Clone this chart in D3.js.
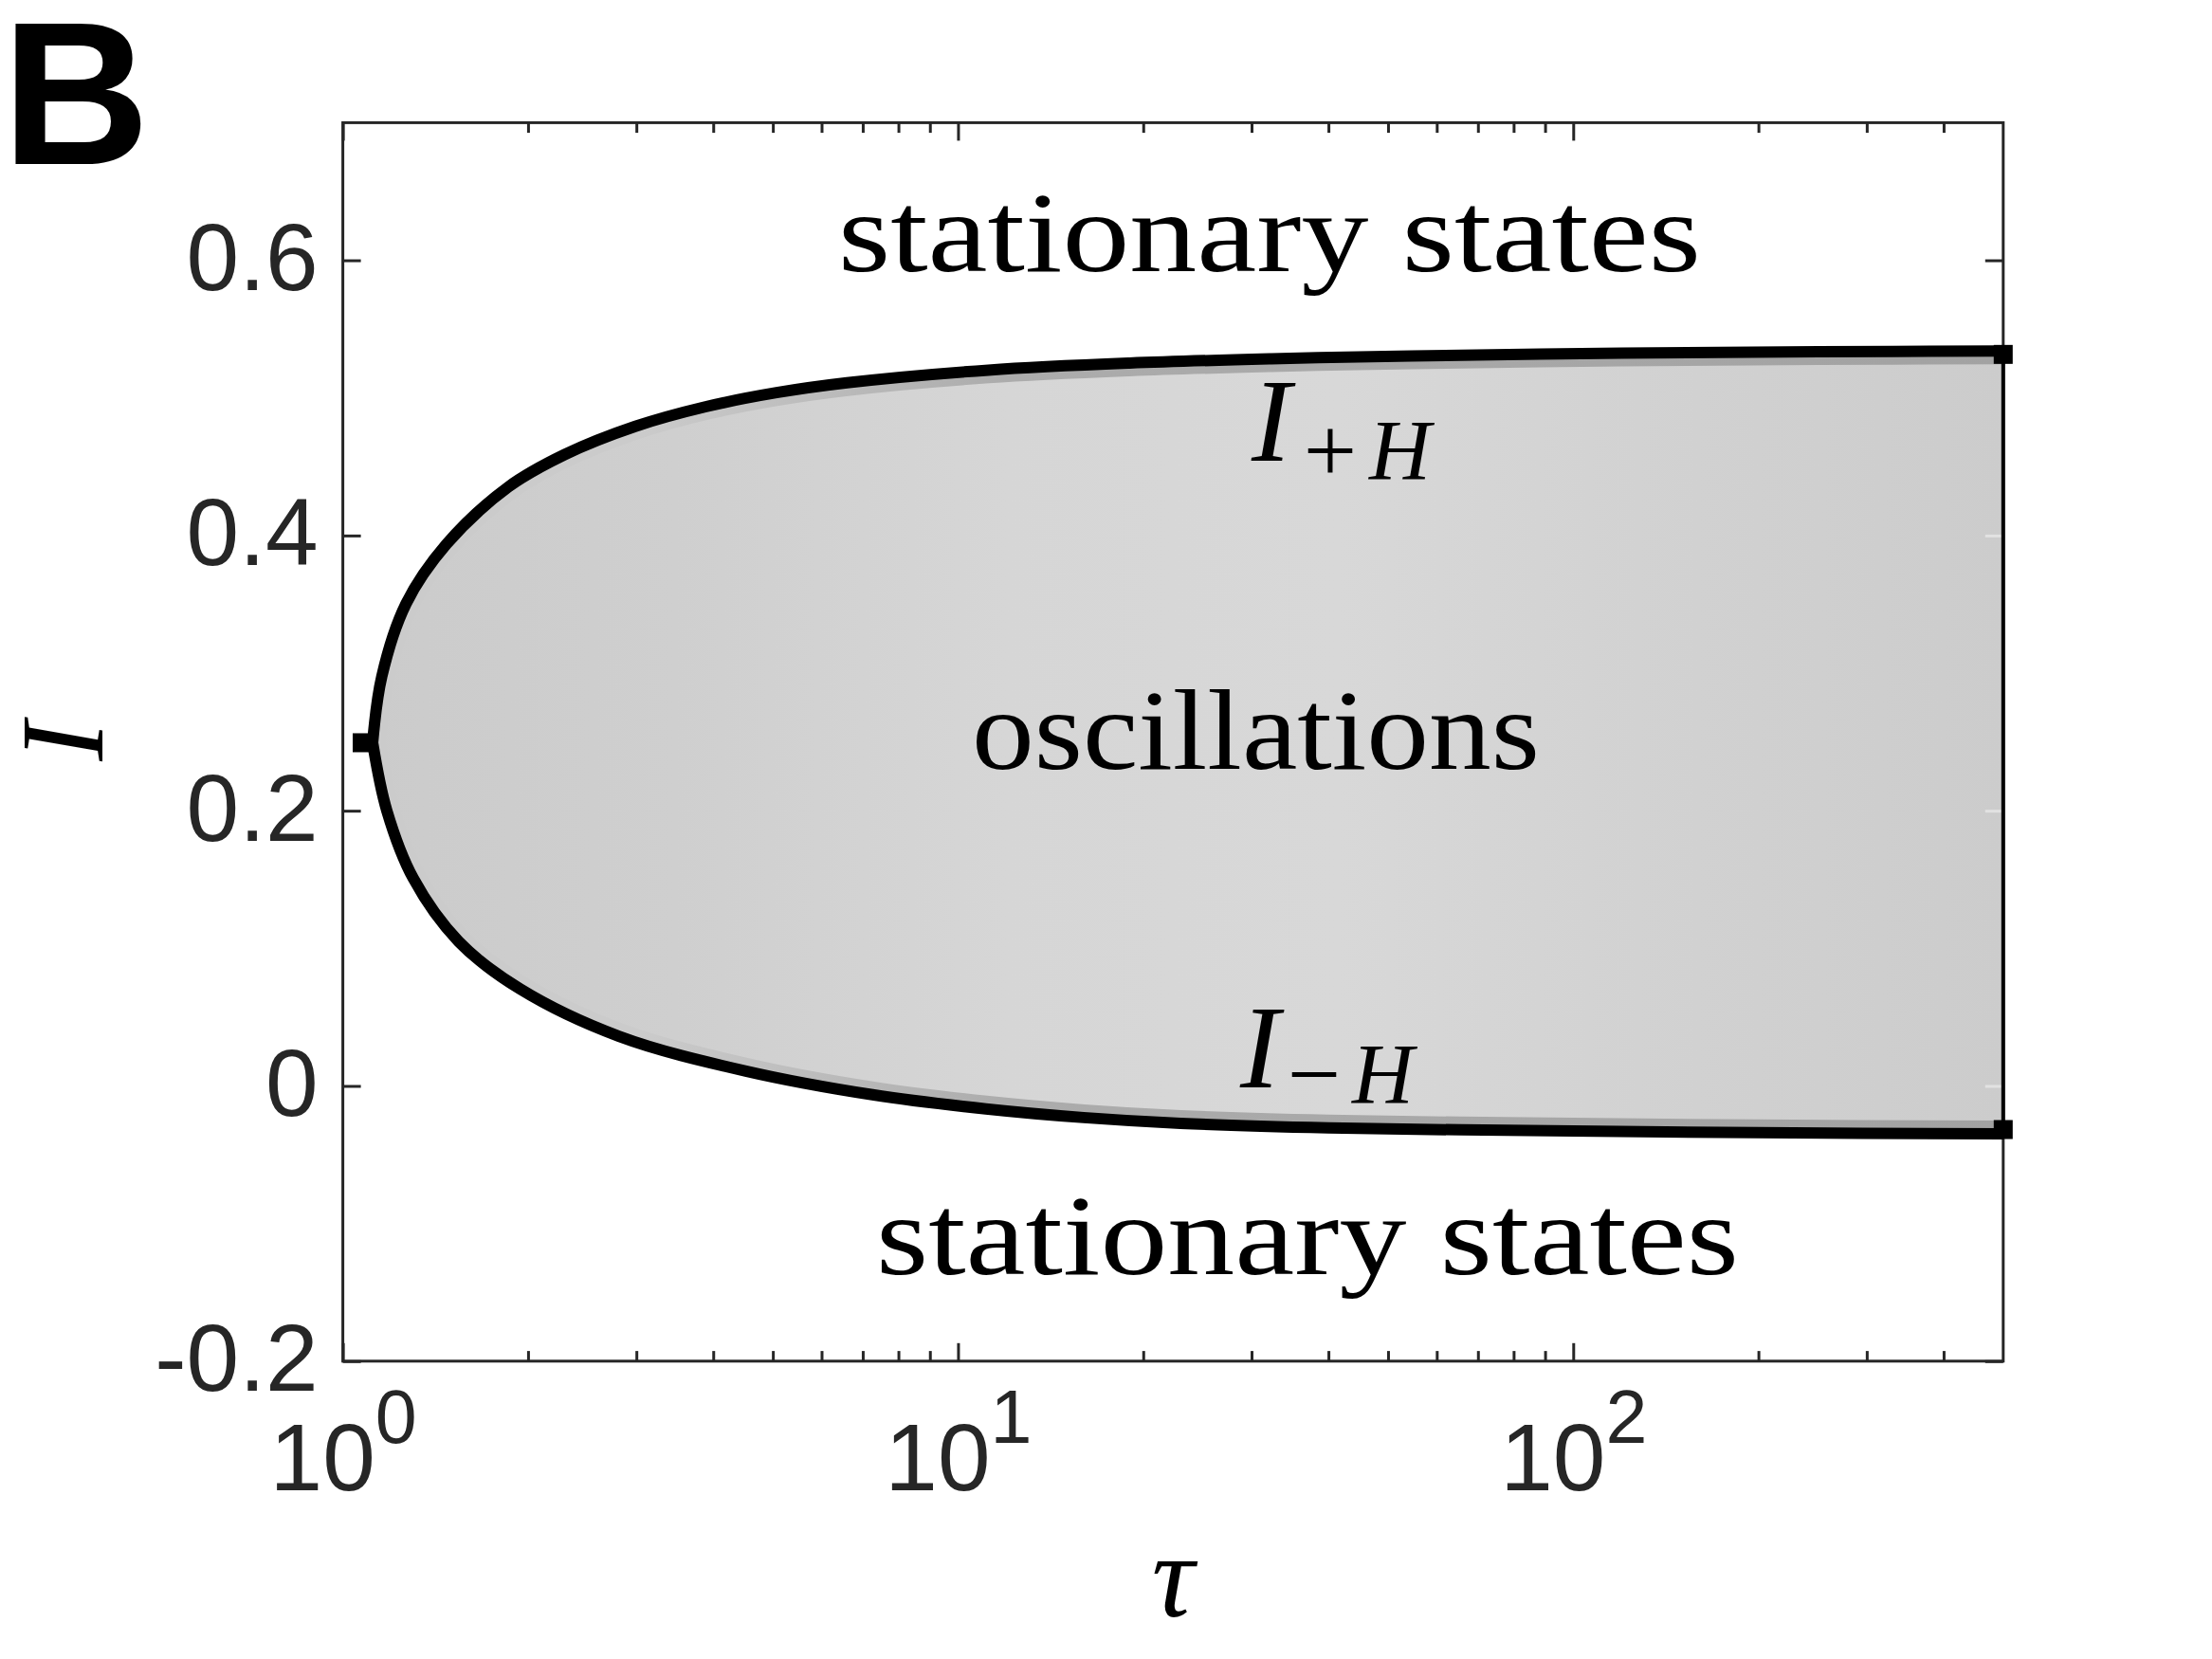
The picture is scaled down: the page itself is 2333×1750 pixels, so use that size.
<!DOCTYPE html>
<html><head><meta charset="utf-8">
<script src="https://cdn.jsdelivr.net/npm/d3@7"></script>
<style>html,body{margin:0;padding:0;background:#fff;} svg{display:block;}</style>
</head><body>
<svg id="chart" width="2333" height="1750"></svg>
<script>
// ---- data ----
const tauUpper = [1.118, 1.157, 1.267, 1.473, 1.857, 2.294, 2.988, 3.891, 5.07, 6.6, 11.2, 19.0, 32.3, 54.7, 120, 250, 500];
const iUpper   = [0.2494, 0.2976, 0.3505, 0.3936, 0.4352, 0.4588, 0.4793, 0.4936, 0.5038, 0.511, 0.5202, 0.5253, 0.5284, 0.5305, 0.5325, 0.5335, 0.534];
const tauLower = [1.118, 1.179, 1.302, 1.543, 1.941, 2.81, 4.52, 7.26, 11.1, 16, 23, 40, 100, 200, 500];
const iLower   = [0.2494, 0.200, 0.1507, 0.1049, 0.0705, 0.0361, 0.0108, -0.0064, -0.0167, -0.0230, -0.0272, -0.0305, -0.0328, -0.0340, -0.0348];
const markerTau = [1.075, 500, 500];
const markerI   = [0.2494, 0.5316, -0.0317];
const xMajorTicks = [1, 10, 100];
const xMajorExp = ["0", "1", "2"];
const xMinorTicks = [2,3,4,5,6,7,8,9,20,30,40,50,60,70,80,90,200,300,400];
const yTicks = [-0.2, 0, 0.2, 0.4, 0.6];
const yTickLabels = ["-0.2", "0", "0.2", "0.4", "0.6"];
const regionLabels = ["stationary states", "oscillations", "stationary states"];

// ---- layout ----
const L = 361.6, R = 2112.8, T = 129.4, B = 1435.8;
const axisColor = "#262626";
const sans = "'Liberation Sans', Arial, Helvetica, sans-serif";
const serif = "'Liberation Serif', 'Times New Roman', serif";

const svg = d3.select("#chart");
const x = d3.scaleLog().domain([1, 500]).range([L, R]);
const y = d3.scaleLinear().domain([-0.2, 0.7]).range([B, T]);

const upperPts = tauUpper.map((t, i) => [t, iUpper[i]]);
const lowerPts = tauLower.map((t, i) => [t, iLower[i]]);
const line = d3.line().x(d => x(d[0])).y(d => y(d[1])).curve(d3.curveCatmullRom.alpha(0.5));

const fillD = line(upperPts) + line(lowerPts.slice().reverse()).replace(/^M/, "L") + "Z";
const strokeD = line(upperPts.slice().reverse()) + line(lowerPts).replace(/^M/, "L");

const defs = svg.append("defs");
const fg = defs.append("linearGradient").attr("id", "fillGrad")
  .attr("gradientUnits", "userSpaceOnUse").attr("x1", L).attr("x2", R).attr("y1", 0).attr("y2", 0);
[[0, "#cbcbcb"], [0.2, "#cfcfcf"], [0.4, "#d6d6d6"], [0.6, "#d8d8d8"], [0.78, "#d2d2d2"], [1, "#cccccc"]]
  .forEach(s => fg.append("stop").attr("offset", s[0]).attr("stop-color", s[1]));
const bg = defs.append("linearGradient").attr("id", "bandGrad")
  .attr("gradientUnits", "userSpaceOnUse").attr("x1", L).attr("x2", R).attr("y1", 0).attr("y2", 0);
[[0, "#cbcbcb"], [0.18, "#cbcbcb"], [0.4, "#acacac"], [1, "#a2a2a2"]]
  .forEach(s => bg.append("stop").attr("offset", s[0]).attr("stop-color", s[1]));
defs.append("clipPath").attr("id", "clipFill").append("path").attr("d", fillD);

// filled oscillation region
svg.append("path").attr("d", fillD).attr("fill", "url(#fillGrad)");
// inner grey fringe
svg.append("path").attr("d", strokeD).attr("fill", "none")
  .attr("stroke", "url(#bandGrad)").attr("stroke-width", 28).attr("clip-path", "url(#clipFill)");

// ---- axes ----
function styleAxis(g, lightFn) {
  g.select(".domain").remove();
  g.attr("color", axisColor);
  g.selectAll(".tick line").attr("stroke-width", 3);
  if (lightFn) g.selectAll(".tick line").attr("stroke", d => lightFn(d) ? "#e2e2e2" : axisColor);
}
svg.append("g").attr("transform", `translate(0,${B})`)
  .call(d3.axisBottom(x).tickValues(xMinorTicks).tickSizeInner(-10.7).tickSizeOuter(0).tickFormat(() => ""))
  .call(styleAxis);
svg.append("g").attr("transform", `translate(0,${T})`)
  .call(d3.axisTop(x).tickValues(xMinorTicks).tickSizeInner(-10.7).tickSizeOuter(0).tickFormat(() => ""))
  .call(styleAxis);
svg.append("g").attr("transform", `translate(0,${T})`)
  .call(d3.axisTop(x).tickValues(xMajorTicks).tickSizeInner(-19).tickSizeOuter(0).tickFormat(() => ""))
  .call(styleAxis);
const xAxisG = svg.append("g").attr("transform", `translate(0,${B})`)
  .call(d3.axisBottom(x).tickValues(xMajorTicks).tickSizeInner(-19).tickSizeOuter(0).tickFormat(() => ""))
  .call(styleAxis);
xAxisG.selectAll(".tick text").remove();
xAxisG.selectAll(".tick").each(function(d, i) {
  const t = d3.select(this).append("text")
    .attr("y", 136).attr("text-anchor", "middle")
    .attr("font-family", sans).attr("font-size", 100).attr("fill", axisColor);
  t.append("tspan").text("10");
  t.append("tspan").attr("dy", -50).attr("font-size", 79).text(xMajorExp[i]);
});
const yAxisG = svg.append("g").attr("transform", `translate(${L},0)`)
  .call(d3.axisLeft(y).tickValues(yTicks).tickSizeInner(-19).tickSizeOuter(0).tickPadding(26)
    .tickFormat((d, i) => yTickLabels[i]))
  .call(styleAxis);
yAxisG.selectAll(".tick text").attr("font-family", sans).attr("font-size", 100)
  .attr("fill", axisColor).attr("dy", "0.31em");
svg.append("g").attr("transform", `translate(${R},0)`)
  .call(d3.axisRight(y).tickValues(yTicks).tickSizeInner(-19).tickSizeOuter(0).tickFormat(() => ""))
  .call(g => styleAxis(g, d => d > iLower[iLower.length - 1] && d < iUpper[iUpper.length - 1]));
svg.append("rect").attr("x", L).attr("y", T).attr("width", R - L).attr("height", B - T)
  .attr("fill", "none").attr("stroke", axisColor).attr("stroke-width", 3);

// right closing edge of region
svg.append("line").attr("x1", x(500)).attr("x2", x(500))
  .attr("y1", y(iUpper[iUpper.length - 1])).attr("y2", y(iLower[iLower.length - 1]))
  .attr("stroke", "#000").attr("stroke-width", 4);

// Hopf curves
svg.append("path").attr("d", strokeD).attr("fill", "none").attr("stroke", "#000")
  .attr("stroke-width", 12).attr("stroke-linejoin", "miter").attr("stroke-miterlimit", 10);

// end markers
svg.selectAll("rect.marker").data(markerTau.map((t, i) => [t, markerI[i]])).enter()
  .append("rect").attr("class", "marker")
  .attr("x", d => x(d[0]) - 10).attr("y", d => y(d[1]) - 10)
  .attr("width", 20).attr("height", 20).attr("fill", "#000");

// ---- region annotations ----
svg.append("text").attr("x", 884).attr("y", 286).attr("font-family", serif).attr("font-size", 120)
  .attr("textLength", 910).attr("lengthAdjust", "spacingAndGlyphs").text(regionLabels[0]);
svg.append("text").attr("x", 1025).attr("y", 811).attr("font-family", serif).attr("font-size", 120)
  .attr("textLength", 599).attr("lengthAdjust", "spacingAndGlyphs").text(regionLabels[1]);
svg.append("text").attr("x", 924).attr("y", 1344).attr("font-family", serif).attr("font-size", 120)
  .attr("textLength", 910).attr("lengthAdjust", "spacingAndGlyphs").text(regionLabels[2]);

function hopfLabel(xI, baseI, sign, xSign, xH, baseSub) {
  svg.append("text").attr("x", xI).attr("y", baseI).attr("font-family", serif)
    .attr("font-style", "italic").attr("font-size", 125).text("I");
  svg.append("text").attr("x", xSign).attr("y", baseSub + 3).attr("text-anchor", "middle")
    .attr("font-family", serif).attr("font-size", 100).text(sign);
  svg.append("text").attr("x", xH).attr("y", baseSub).attr("font-family", serif)
    .attr("font-style", "italic").attr("font-size", 90).text("H");
}
hopfLabel(1320, 486, "+", 1403, 1444, 505.7);
hopfLabel(1308, 1147, "\u2212", 1386, 1426, 1164);

// axis titles
svg.append("text").attr("transform", "translate(108,782) rotate(-90)").attr("text-anchor", "middle")
  .attr("font-family", serif).attr("font-style", "italic").attr("font-size", 125).text("I");
svg.append("text").attr("x", (L + R) / 2).attr("y", 1705).attr("text-anchor", "middle")
  .attr("font-family", serif).attr("font-style", "italic").attr("font-size", 125).text("\u03C4");

// panel letter
svg.append("text").attr("x", 2).attr("y", 173).attr("font-family", sans).attr("font-weight", "bold")
  .attr("font-size", 216).attr("fill", "#000").text("B");
</script>
</body></html>
